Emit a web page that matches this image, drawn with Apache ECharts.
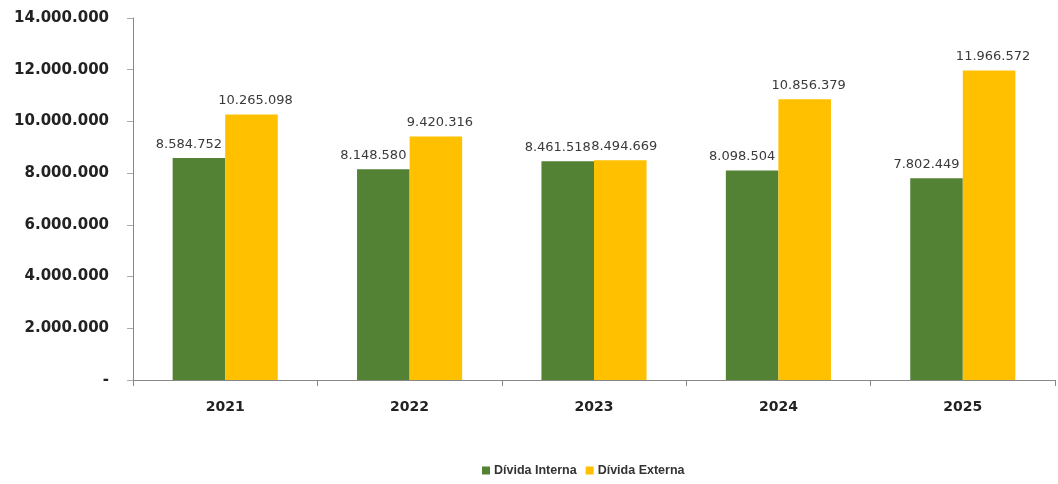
<!DOCTYPE html>
<html><head><meta charset="utf-8">
<script src="https://cdn.jsdelivr.net/npm/echarts@6/dist/echarts.min.js"></script>
<style>html,body{margin:0;padding:0;background:#fff}#c{width:1058px;height:484px}</style>
</head><body><div id="c"></div>
<script>
var categories = ['2021','2022','2023','2024','2025'];
var dividaInterna = [8584752, 8148580, 8461518, 8098504, 7802449];
var dividaExterna = [10265098, 9420316, 8494669, 10856379, 11966572];
var seriesNames = ['Dívida Interna','Dívida Externa'];

function fmt(v){
  if (v === 0) return '-';
  return String(Math.round(v)).replace(/\B(?=(\d{3})+(?!\d))/g, '.');
}
var chart = echarts.init(document.getElementById('c'));
function labelStyle(dx){
  return {show:true, position:'top', distance:7, offset:[dx,0], color:'#3a3a3a', fontFamily:'DejaVu Sans', fontSize:13,
    formatter:function(p){return fmt(p.value);}};
}
chart.setOption({
  animation:false,
  textStyle:{fontFamily:'DejaVu Sans'},
  grid:{left:133, right:3, top:18, bottom:104},
  legend:{bottom:2, left:477, itemWidth:8, itemHeight:8, itemGap:9, icon:'rect',
    textStyle:{fontSize:12.5, fontWeight:'bold', color:'#333', fontFamily:'Liberation Sans', padding:[0,0,0,-1]}},
  xAxis:{type:'category', data:categories,
    axisLine:{lineStyle:{color:'#888'}},
    axisTick:{show:true, length:6, lineStyle:{color:'#888'}},
    axisLabel:{fontSize:14, fontWeight:'bold', color:'#222', margin:20}},
  yAxis:{type:'value', min:0, max:14000000, interval:2000000,
    axisLine:{show:true, lineStyle:{color:'#888'}},
    axisTick:{show:true, inside:false, length:6, lineStyle:{color:'#aaa'}},
    splitLine:{show:false},
    axisLabel:{fontSize:15, fontWeight:'bold', color:'#222', margin:24, formatter:fmt}},
  series:[
    {name:seriesNames[0], type:'bar', data:dividaInterna, barGap:'0%', barCategoryGap:'43%',
     itemStyle:{color:'#548235'}, label:labelStyle(-10)},
    {name:seriesNames[1], type:'bar', data:dividaExterna,
     itemStyle:{color:'#FFC000'}, label:labelStyle(4)}
  ]
});
</script></body></html>
